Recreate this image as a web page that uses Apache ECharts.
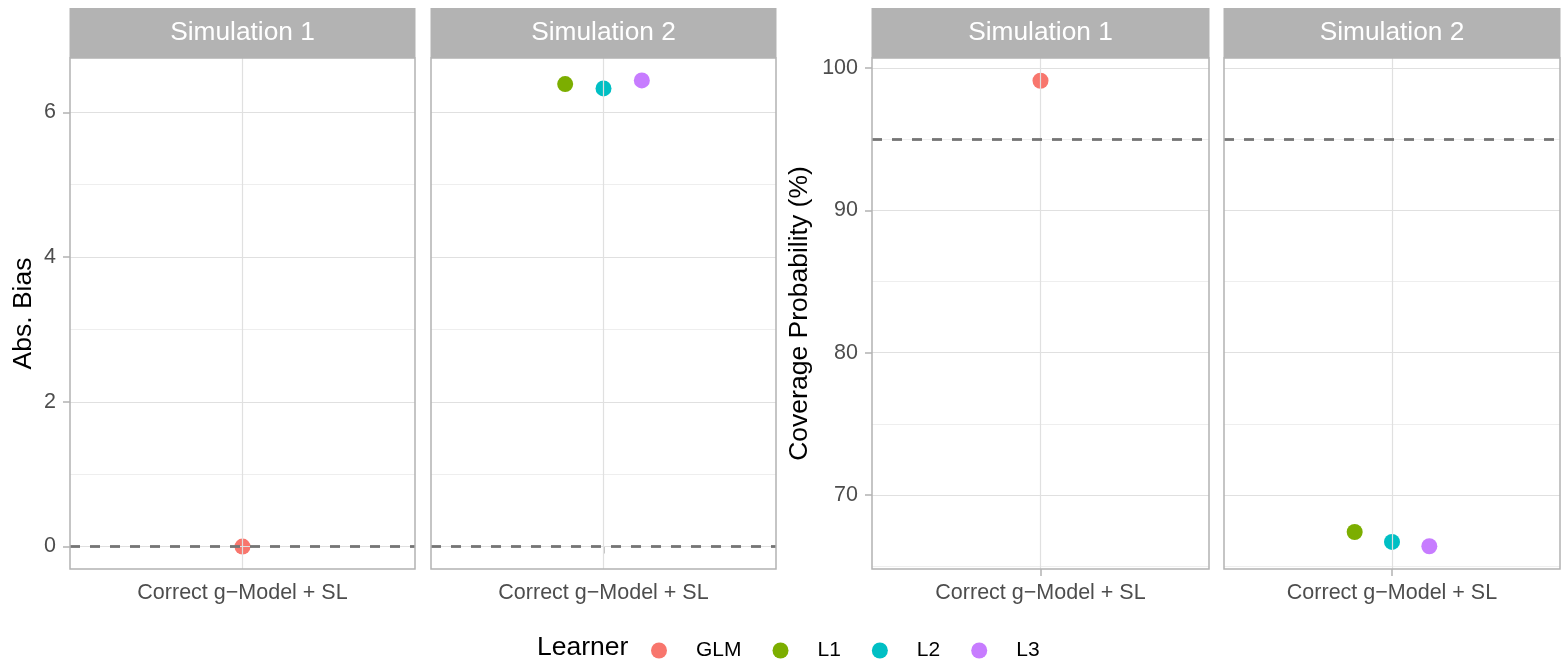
<!DOCTYPE html>
<html><head><meta charset="utf-8">
<script src="https://cdn.jsdelivr.net/npm/echarts@6/dist/echarts.min.js"></script>
<style>html,body{margin:0;padding:0;background:#fff}#chart{width:1566px;height:662px}</style>
</head><body><div id="chart"></div>
<script>
// ---- data ----
const categories = ['Correct g\u2212Model + SL'];
const learners = ['GLM', 'L1', 'L2', 'L3'];
const learnerColors = ['#F8766D', '#7CAE00', '#00BFC4', '#C77CFF'];
const panelTitles = ['Simulation 1', 'Simulation 2', 'Simulation 1', 'Simulation 2'];
const biasSim1 = [0.00, null, null, null];        // GLM, L1, L2, L3
const biasSim2 = [null, 6.39, 6.33, 6.44];
const coverageSim1 = [99.1, null, null, null];
const coverageSim2 = [null, 67.4, 66.7, 66.4];
const biasTicks = [0, 2, 4, 6];
const biasMinor = [1, 3, 5];
const coverageTicks = [70, 80, 90, 100];
const coverageMinor = [65, 75, 85, 95];
const biasTarget = 0;
const coverageTarget = 95;
const yTitles = ['Abs. Bias', 'Coverage Probability (%)'];
const legendTitle = 'Learner';

const FONT = '"Liberation Sans", Arial, Helvetica, sans-serif';
const DODGE = 0.4;

const panels = [
  {values: biasSim1, left: 70, width: 345, yMin: -0.31, yMax: 6.75, ticks: biasTicks, minor: biasMinor, ref: biasTarget, labels: true},
  {values: biasSim2, left: 431, width: 345, yMin: -0.31, yMax: 6.75, ticks: biasTicks, minor: biasMinor, ref: biasTarget, labels: false},
  {values: coverageSim1, left: 872, width: 337, yMin: 64.8, yMax: 100.7, ticks: coverageTicks, minor: coverageMinor, ref: coverageTarget, labels: true},
  {values: coverageSim2, left: 1224, width: 336, yMin: 64.8, yMax: 100.7, ticks: coverageTicks, minor: coverageMinor, ref: coverageTarget, labels: false}
];
const TOP = 58, HEIGHT = 511;

function dodge(values) {
  const present = [];
  values.forEach((v, i) => { if (v != null) present.push(i); });
  const n = present.length;
  return values.map((v, i) => {
    if (v == null) return null;
    const k = present.indexOf(i);
    const off = n > 1 ? -DODGE / 2 + DODGE / (2 * n) + k * DODGE / n : 0;
    return [1 + off, v];
  });
}

const grid = [], xAxis = [], yAxis = [], series = [], graphic = [];
panels.forEach((p, pi) => {
  grid.push({left: p.left, top: TOP, width: p.width, height: HEIGHT, show: true, z: 10,
    backgroundColor: 'transparent', borderColor: '#b3b3b3', borderWidth: 1.5, containLabel: false});
  xAxis.push({type: 'value', gridIndex: pi, min: 0.4, max: 1.6,
    axisLine: {show: false}, splitLine: {show: false},
    axisTick: {show: true, customValues: [1], length: 7, lineStyle: {color: '#b3b3b3', width: 1.5}},
    axisLabel: {show: true, customValues: [1], margin: 13, fontSize: 21.5, color: '#4d4d4d', fontFamily: FONT,
      formatter: v => categories[Math.round(v) - 1]}
  });
  yAxis.push({type: 'value', gridIndex: pi, min: p.yMin, max: p.yMax,
    axisLine: {show: false}, splitLine: {show: false},
    axisTick: {show: p.labels, customValues: p.ticks, length: 7, lineStyle: {color: '#b3b3b3', width: 1.5}},
    axisLabel: {show: p.labels, customValues: p.ticks, margin: 14, fontSize: 21.5, color: '#4d4d4d', fontFamily: FONT}
  });
  // gridlines
  const gl = [];
  p.minor.forEach(v => gl.push({yAxis: v, lineStyle: {color: '#e6e6e6', width: 0.7, type: 'solid'}}));
  p.ticks.forEach(v => gl.push({yAxis: v, lineStyle: {color: '#e0e0e0', width: 1.2, type: 'solid'}}));
  gl.push({xAxis: 1, lineStyle: {color: '#e0e0e0', width: 1.2, type: 'solid'}});
  series.push({type: 'scatter', xAxisIndex: pi, yAxisIndex: pi, data: [], z: 1, silent: true,
    markLine: {silent: true, symbol: 'none', animation: false, label: {show: false}, data: gl}});
  // reference dashed line
  series.push({type: 'scatter', xAxisIndex: pi, yAxisIndex: pi, data: [], z: 2, silent: true,
    markLine: {silent: true, symbol: 'none', animation: false, label: {show: false},
      data: [{yAxis: p.ref, lineStyle: {color: '#757575', width: 2.8, type: [10, 10]}}]}});
  // points
  const pts = dodge(p.values);
  learners.forEach((name, li) => {
    series.push({type: 'scatter', name: name, xAxisIndex: pi, yAxisIndex: pi, z: 3,
      symbol: 'circle', symbolSize: 16,
      itemStyle: {color: learnerColors[li], opacity: 1},
      data: pts[li] ? [pts[li]] : []});
  });
  // strip
  graphic.push({type: 'rect', shape: {x: p.left - 0.5, y: 8, width: p.width + 1, height: 50},
    style: {fill: '#b3b3b3'}, z: 20});
  graphic.push({type: 'text', x: p.left + p.width / 2, y: 33, z: 21,
    style: {text: panelTitles[pi], fill: '#ffffff', font: '26.3px ' + FONT, align: 'center', verticalAlign: 'middle'}});
});
graphic.push({type: 'text', x: 23.5, y: 313.5, rotation: Math.PI / 2, z: 21,
  style: {text: yTitles[0], fill: '#000', font: '26.5px ' + FONT, align: 'center', verticalAlign: 'middle'}});
graphic.push({type: 'text', x: 800, y: 313.5, rotation: Math.PI / 2, z: 21,
  style: {text: yTitles[1], fill: '#000', font: '26.5px ' + FONT, align: 'center', verticalAlign: 'middle'}});
graphic.push({type: 'text', x: 537, y: 648, z: 21,
  style: {text: legendTitle, fill: '#000', font: '26.5px ' + FONT, align: 'left', verticalAlign: 'middle'}});

const chart = echarts.init(document.getElementById('chart'), null, {renderer: 'canvas'});
chart.setOption({
  animation: false,
  backgroundColor: '#ffffff',
  textStyle: {fontFamily: FONT},
  grid, xAxis, yAxis, series, graphic,
  legend: {data: learners, left: 651, top: 640, padding: 0, icon: 'circle', itemWidth: 16, itemHeight: 16,
    itemGap: 31, selectedMode: false,
    textStyle: {fontSize: 21, color: '#000', fontFamily: FONT, padding: [0, 0, 0, 24]}}
});
</script></body></html>
